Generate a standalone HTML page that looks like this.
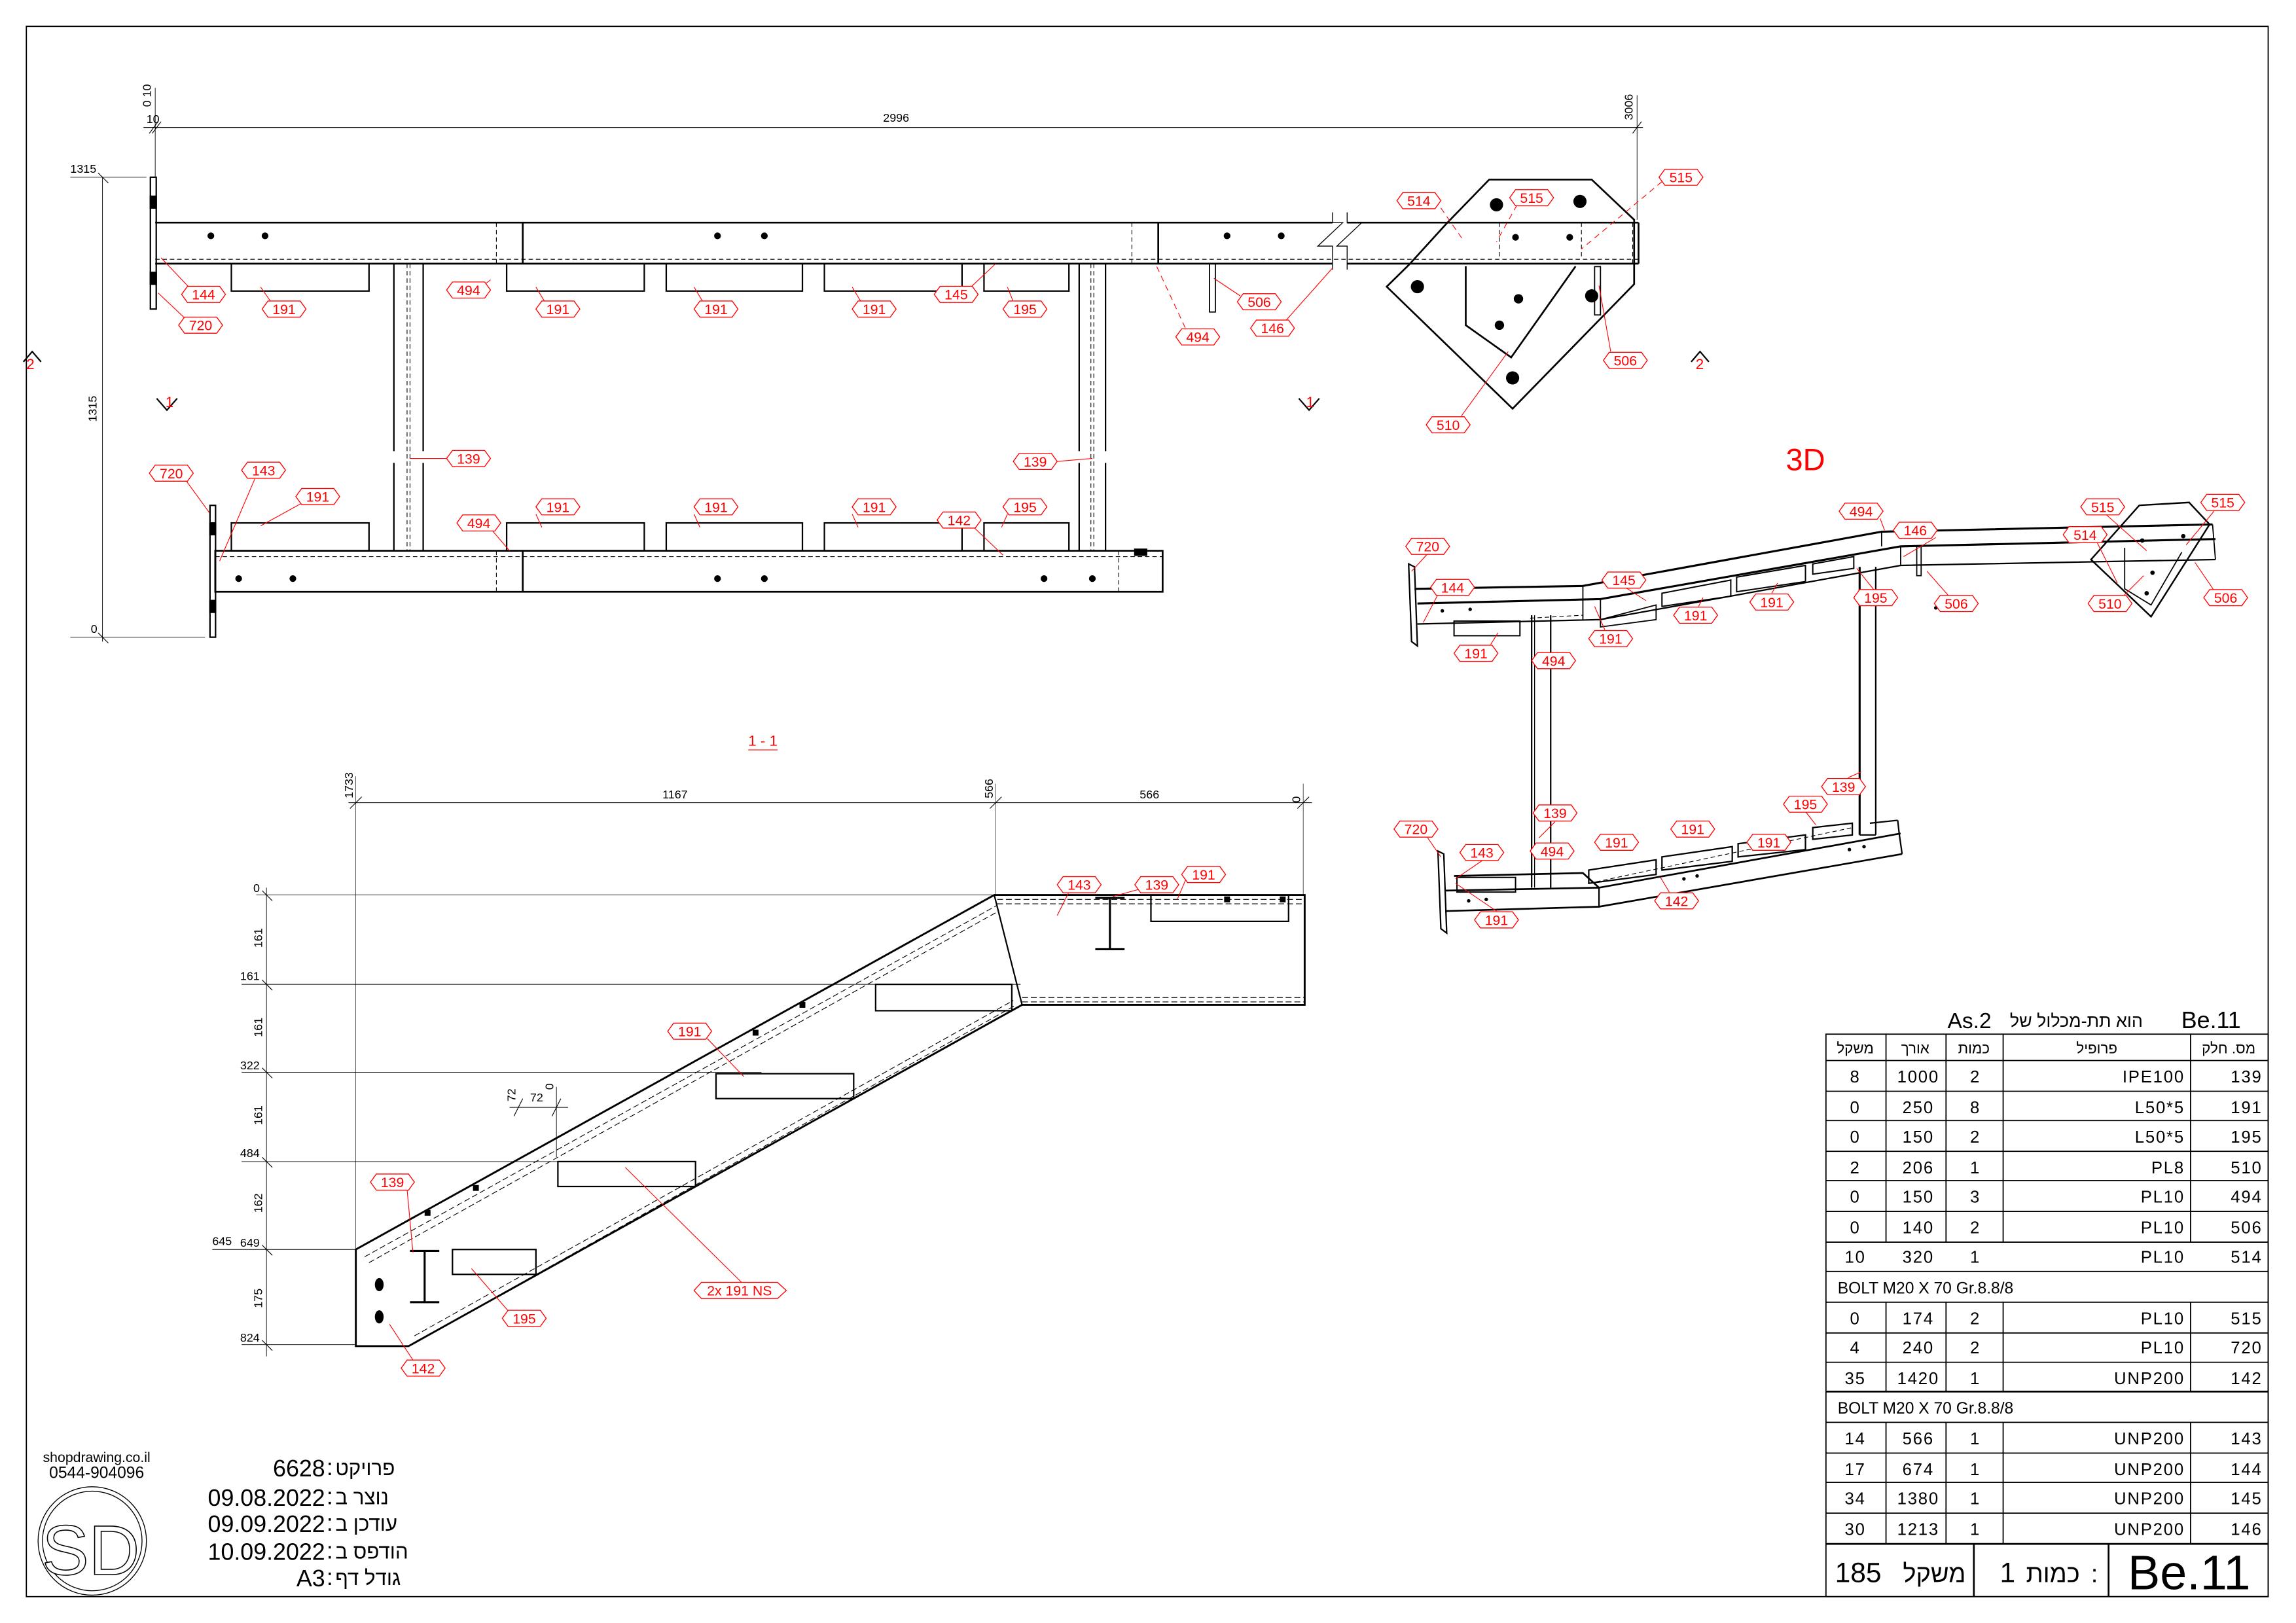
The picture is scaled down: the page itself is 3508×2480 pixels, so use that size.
<!DOCTYPE html>
<html><head><meta charset="utf-8"><style>
html,body{margin:0;padding:0;background:#fff;}
svg{display:block;}
text{font-family:"Liberation Sans","Noto Sans CJK JP",sans-serif;}
.r{fill:#f00;font-size:9.5px;text-anchor:middle;}
.d{fill:#000;font-size:8px;}
</style></head><body>
<svg width="3508" height="2480" viewBox="0 0 1568 1108" preserveAspectRatio="none" xmlns="http://www.w3.org/2000/svg">
<defs>
<polygon id="h" points="-15,0 -11,-5.5 11,-5.5 15,0 11,5.5 -11,5.5" fill="#fff" stroke="#f00" stroke-width="0.6"/>
</defs>
<rect x="0" y="0" width="1568" height="1108" fill="#fff"/>
<rect x="18" y="18" width="1531" height="1072" fill="none" stroke="#000" stroke-width="0.8"/>

<g stroke="#000" fill="none">
<line x1="98" y1="87" x2="1122" y2="87" stroke-width="0.6"/>
<line x1="106" y1="60" x2="106" y2="121" stroke-width="0.4"/>
<line x1="1118" y1="65" x2="1118" y2="150" stroke-width="0.4"/>
<line x1="102" y1="91" x2="108" y2="83" stroke-width="0.5"/>
<line x1="104" y1="91" x2="110" y2="83" stroke-width="0.5"/>
<line x1="1115" y1="91" x2="1121" y2="83" stroke-width="0.5"/>
<line x1="70" y1="121" x2="70" y2="438" stroke-width="0.4"/>
<line x1="48" y1="121" x2="100" y2="121" stroke-width="0.4"/>
<line x1="48" y1="435" x2="140" y2="435" stroke-width="0.4"/>
<line x1="67" y1="118" x2="74" y2="125" stroke-width="0.5"/>
<line x1="67" y1="432" x2="74" y2="439" stroke-width="0.5"/>
<line x1="106" y1="152" x2="910" y2="152" stroke-width="1.2"/>
<line x1="920" y1="152" x2="1119" y2="152" stroke-width="1.2"/>
<line x1="106" y1="180" x2="910" y2="180" stroke-width="1.2"/>
<line x1="920" y1="180" x2="1119" y2="180" stroke-width="1.2"/>
<line x1="1119" y1="152" x2="1119" y2="180" stroke-width="1.2"/>
<line x1="106" y1="177" x2="1119" y2="177" stroke-width="0.5" stroke-dasharray="3,2"/>
<polyline points="910,145 910,152 917,152 900,168 910,168 910,184" stroke-width="0.6"/>
<polyline points="920,145 920,152 930,152 913,168 920,168 920,184" stroke-width="0.6"/>
<line x1="357" y1="152" x2="357" y2="180" stroke-width="1.2"/>
<line x1="339" y1="152" x2="339" y2="180" stroke-width="0.5" stroke-dasharray="3,2"/>
<line x1="791" y1="152" x2="791" y2="180" stroke-width="1.2"/>
<line x1="773" y1="152" x2="773" y2="180" stroke-width="0.5" stroke-dasharray="3,2"/>
<rect x="102.7" y="121" width="4" height="90" stroke-width="1"/>
<rect x="102.7" y="134" width="4" height="8" fill="#000"/>
<rect x="102.7" y="186" width="4" height="8" fill="#000"/>
<rect x="158" y="180" width="94" height="18.7" stroke-width="1"/>
<rect x="346" y="180" width="94" height="18.7" stroke-width="1"/>
<rect x="455" y="180" width="93" height="18.7" stroke-width="1"/>
<rect x="563" y="180" width="94" height="18.7" stroke-width="1"/>
<rect x="672" y="180" width="58" height="18.7" stroke-width="1"/>
<line x1="269" y1="180" x2="269" y2="308" stroke-width="1"/><line x1="269" y1="316" x2="269" y2="376" stroke-width="1"/>
<line x1="289" y1="180" x2="289" y2="308" stroke-width="1"/><line x1="289" y1="316" x2="289" y2="376" stroke-width="1"/>
<line x1="278" y1="180" x2="278" y2="376" stroke-width="0.5" stroke-dasharray="3,2"/>
<line x1="280" y1="180" x2="280" y2="376" stroke-width="0.5" stroke-dasharray="3,2"/>
<line x1="737" y1="180" x2="737" y2="308" stroke-width="1"/><line x1="737" y1="316" x2="737" y2="376" stroke-width="1"/>
<line x1="755" y1="180" x2="755" y2="308" stroke-width="1"/><line x1="755" y1="316" x2="755" y2="376" stroke-width="1"/>
<line x1="745" y1="180" x2="745" y2="376" stroke-width="0.5" stroke-dasharray="3,2"/>
<line x1="747" y1="180" x2="747" y2="376" stroke-width="0.5" stroke-dasharray="3,2"/>
<rect x="147" y="376" width="647" height="28" stroke-width="1.2"/>
<line x1="147" y1="380" x2="794" y2="380" stroke-width="0.5" stroke-dasharray="3,2"/>
<line x1="357" y1="376" x2="357" y2="404" stroke-width="1.2"/>
<line x1="339" y1="376" x2="339" y2="404" stroke-width="0.5" stroke-dasharray="3,2"/>
<line x1="764" y1="376" x2="764" y2="404" stroke-width="0.5" stroke-dasharray="3,2"/>
<rect x="143.4" y="345" width="3.8" height="90" stroke-width="1"/>
<rect x="143.4" y="357" width="3.8" height="8" fill="#000"/>
<rect x="143.4" y="410" width="3.8" height="8" fill="#000"/>
<rect x="775" y="375" width="8" height="4" fill="#000"/>
<rect x="158" y="357" width="94" height="19" stroke-width="1"/>
<rect x="346" y="357" width="94" height="19" stroke-width="1"/>
<rect x="455" y="357" width="93" height="19" stroke-width="1"/>
<rect x="563" y="357" width="94" height="19" stroke-width="1"/>
<rect x="672" y="357" width="58" height="19" stroke-width="1"/>
<polygon points="1017,122.6 1087,122.6 1116,150 1116,194 1033,279 947,195.7 962,181 988,152.5" stroke-width="1.2" fill="none"/>
<polyline points="1001,181.8 1001,222 1032,244 1076,181.8" stroke-width="1.2"/>
<rect x="1089" y="182" width="4" height="33" stroke-width="0.8"/>
<rect x="826" y="180" width="4" height="33" stroke-width="0.8"/>
<line x1="1024" y1="152" x2="1024" y2="177" stroke-width="0.5" stroke-dasharray="3,2"/>
<line x1="1080" y1="152" x2="1080" y2="177" stroke-width="0.5" stroke-dasharray="3,2"/>
<line x1="1115" y1="152" x2="1115" y2="180" stroke-width="0.5" stroke-dasharray="3,2"/>
</g>
<g fill="#000">
<circle cx="144" cy="161" r="2.3"/><circle cx="181" cy="161" r="2.3"/>
<circle cx="490" cy="161" r="2.3"/><circle cx="522" cy="161" r="2.3"/>
<circle cx="838" cy="161" r="2.3"/><circle cx="875" cy="161" r="2.3"/>
<circle cx="1035" cy="162" r="2.3"/><circle cx="1072" cy="162" r="2.3"/>
<circle cx="163" cy="395" r="2.3"/><circle cx="200" cy="395" r="2.3"/>
<circle cx="490" cy="395" r="2.3"/><circle cx="522" cy="395" r="2.3"/>
<circle cx="713" cy="395" r="2.3"/><circle cx="746" cy="395" r="2.3"/>
<circle cx="1022" cy="139.8" r="4.5"/><circle cx="1079" cy="137.5" r="4.5"/>
<circle cx="968" cy="195.7" r="4.5"/><circle cx="1087" cy="202" r="4.5"/>
<circle cx="1033" cy="258" r="4.5"/><circle cx="1037" cy="204" r="3.2"/><circle cx="1024" cy="222" r="3.2"/>
</g>
<text class="d" x="612" y="83" text-anchor="middle">2996</text>
<text class="d" x="100" y="84">10</text>
<text class="d" transform="translate(103,73) rotate(-90)">0  10</text>
<text class="d" transform="translate(1115,82) rotate(-90)">3006</text>
<text class="d" x="48" y="118">1315</text>
<text class="d" transform="translate(66,288) rotate(-90)">1315</text>
<text class="d" x="62" y="432">0</text>
<g fill="none" stroke="#000" stroke-width="1"><path d="M16,247 L22,240 L28,247"/><path d="M107,272 L114,280 L121,272"/><path d="M887,272 L894,280 L901,272"/><path d="M1155,247 L1161,240 L1167,247"/></g>
<g fill="#f00" font-size="10px"><text x="18" y="252">2</text><text x="113" y="278">1</text><text x="892" y="278">1</text><text x="1158" y="252">2</text></g>

<g stroke="#f00" stroke-width="0.5" fill="none">
<line x1="110" y1="176" x2="129" y2="196"/><line x1="108" y1="200" x2="126" y2="217"/>
<line x1="178" y1="196" x2="185" y2="206"/><line x1="335" y1="191" x2="330" y2="195"/>
<line x1="366" y1="196" x2="372" y2="206"/><line x1="474" y1="196" x2="480" y2="206"/>
<line x1="582" y1="196" x2="588" y2="206"/><line x1="680" y1="180" x2="663" y2="196"/>
<line x1="688" y1="196" x2="692" y2="206"/><line x1="829" y1="190" x2="847" y2="202"/>
<line x1="790" y1="182" x2="810" y2="225" stroke-dasharray="4,3"/><line x1="910" y1="183" x2="878" y2="219"/>
<line x1="984" y1="142" x2="1000" y2="165" stroke-dasharray="4,3"/><line x1="1036" y1="140" x2="1022" y2="165" stroke-dasharray="4,3"/>
<line x1="1135" y1="124" x2="1080" y2="170" stroke-dasharray="4,3"/><line x1="1092" y1="195" x2="1100" y2="240"/>
<line x1="1030" y1="240" x2="998" y2="284"/><line x1="280" y1="313" x2="305" y2="313"/>
<line x1="746" y1="313" x2="722" y2="315"/><line x1="127" y1="328" x2="143" y2="350"/>
<line x1="174" y1="327" x2="150" y2="383"/><line x1="207" y1="343" x2="178" y2="359"/>
<line x1="336" y1="362" x2="348" y2="376"/><line x1="366" y1="351" x2="370" y2="360"/>
<line x1="474" y1="351" x2="478" y2="360"/><line x1="582" y1="351" x2="586" y2="360"/>
<line x1="665" y1="360" x2="685" y2="379"/><line x1="688" y1="351" x2="684" y2="360"/>
</g>

<text x="521" y="509" fill="#f00" font-size="10px" text-anchor="middle">1 - 1</text>
<line x1="511" y1="512" x2="531" y2="512" stroke="#f00" stroke-width="0.5"/>
<g stroke="#000" fill="none">
<line x1="238" y1="548" x2="896" y2="548" stroke-width="0.5"/>
<line x1="243" y1="530" x2="243" y2="853" stroke-width="0.3"/>
<line x1="680" y1="535" x2="680" y2="611" stroke-width="0.3"/>
<line x1="890" y1="535" x2="890" y2="611" stroke-width="0.3"/>
<line x1="239" y1="552" x2="247" y2="544" stroke-width="0.5"/><line x1="676" y1="552" x2="684" y2="544" stroke-width="0.5"/><line x1="886" y1="552" x2="894" y2="544" stroke-width="0.5"/>
<line x1="182" y1="606" x2="182" y2="926" stroke-width="0.4"/>
<line x1="175" y1="611" x2="680" y2="611" stroke-width="0.4"/>
<line x1="165" y1="672" x2="697" y2="672" stroke-width="0.4"/>
<line x1="165" y1="732" x2="520" y2="732" stroke-width="0.4"/>
<line x1="165" y1="793" x2="381" y2="793" stroke-width="0.4"/>
<line x1="145" y1="853" x2="243" y2="853" stroke-width="0.4"/>
<line x1="165" y1="918" x2="243" y2="918" stroke-width="0.4"/>
<g stroke-width="0.5"><line x1="179" y1="608" x2="186" y2="615"/><line x1="179" y1="669" x2="186" y2="676"/><line x1="179" y1="729" x2="186" y2="736"/><line x1="179" y1="790" x2="186" y2="797"/><line x1="179" y1="850" x2="186" y2="857"/><line x1="179" y1="915" x2="186" y2="922"/></g>
<line x1="348" y1="756" x2="388" y2="756" stroke-width="0.4"/>
<line x1="380" y1="742" x2="380" y2="790" stroke-width="0.4"/>
<line x1="351" y1="762" x2="357" y2="750" stroke-width="0.5"/><line x1="377" y1="762" x2="383" y2="750" stroke-width="0.5"/>
<polygon points="243,853 679,611 891,611 891,686 698,686 279,919 243,919" stroke-width="1.3"/>
<line x1="679" y1="611" x2="698" y2="686" stroke-width="1"/>
<line x1="249" y1="858" x2="681" y2="618" stroke-width="0.5" stroke-dasharray="4,2"/>
<line x1="252" y1="862" x2="682" y2="622" stroke-width="0.5" stroke-dasharray="4,2"/>
<line x1="283" y1="912" x2="692" y2="683" stroke-width="0.5" stroke-dasharray="4,2"/>
<line x1="286" y1="915" x2="694" y2="686" stroke-width="0.5" stroke-dasharray="4,2"/>
<line x1="681" y1="614" x2="891" y2="614" stroke-width="0.5" stroke-dasharray="4,2"/>
<line x1="681" y1="617" x2="891" y2="617" stroke-width="0.5" stroke-dasharray="4,2"/>
<line x1="698" y1="681" x2="891" y2="681" stroke-width="0.5" stroke-dasharray="4,2"/>
<line x1="698" y1="684" x2="891" y2="684" stroke-width="0.5" stroke-dasharray="4,2"/>
<rect x="309" y="853" width="57" height="17" stroke-width="1"/>
<rect x="381" y="793" width="94" height="17" stroke-width="1"/>
<rect x="489" y="733" width="94" height="17" stroke-width="1"/>
<rect x="598" y="672" width="93" height="18" stroke-width="1"/>
<rect x="786" y="611" width="94" height="18" stroke-width="1"/>
<g stroke-width="1.4"><line x1="280" y1="854" x2="300" y2="854"/><line x1="290" y1="854" x2="290" y2="889"/><line x1="280" y1="889" x2="300" y2="889"/>
<line x1="748" y1="613" x2="768" y2="613"/><line x1="758" y1="613" x2="758" y2="648"/><line x1="748" y1="648" x2="768" y2="648"/></g>
</g>
<g fill="#000"><ellipse cx="259" cy="877" rx="3" ry="4.5"/><ellipse cx="259" cy="899" rx="3" ry="4.5"/>
<rect x="290" y="826" width="4" height="4"/><rect x="323" y="809" width="4" height="4"/><rect x="514" y="703" width="4" height="4"/><rect x="546" y="684" width="4" height="4"/>
<rect x="836" y="612" width="4" height="4"/><rect x="874" y="612" width="4" height="4"/></g>
<text class="d" x="461" y="545" text-anchor="middle">1167</text>
<text class="d" x="785" y="545" text-anchor="middle">566</text>
<text class="d" transform="translate(241,545) rotate(-90)">1733</text>
<text class="d" transform="translate(678,545) rotate(-90)">566</text>
<text class="d" transform="translate(888,548) rotate(-90)">0</text>
<g class="d"><text x="173" y="609">0</text><text x="164" y="669">161</text><text x="164" y="730">322</text><text x="164" y="790">484</text><text x="145" y="850">645</text><text x="164" y="851">649</text><text x="164" y="916">824</text>
<text x="362" y="752">72</text></g>
<g class="d"><text transform="translate(179,647) rotate(-90)">161</text><text transform="translate(179,708) rotate(-90)">161</text><text transform="translate(179,768) rotate(-90)">161</text><text transform="translate(179,828) rotate(-90)">162</text><text transform="translate(179,893) rotate(-90)">175</text><text transform="translate(352,752) rotate(-90)">72</text><text transform="translate(378,744) rotate(-90)">0</text></g>
<g stroke="#f00" stroke-width="0.5"><line x1="730" y1="609" x2="722" y2="625"/><line x1="782" y1="606" x2="760" y2="612"/><line x1="810" y1="600" x2="804" y2="614"/>
<line x1="483" y1="709" x2="508" y2="735"/><line x1="278" y1="812" x2="282" y2="855"/><line x1="348" y1="896" x2="322" y2="866"/><line x1="283" y1="930" x2="266" y2="904"/><line x1="507" y1="876" x2="427" y2="797"/></g>

<text x="1233" y="321" fill="#f00" font-size="21px" text-anchor="middle">3D</text>
<g stroke="#000" fill="none">
<polyline points="966,402 1081,400 1285,363 1511,358" stroke-width="1.4"/>
<polyline points="968,412 1093,409 1298,373 1513,368" stroke-width="1.4"/>
<polyline points="968,426 1093,423 1298,386 1513,382" stroke-width="1"/>
<line x1="1081" y1="400" x2="1081" y2="423" stroke-width="0.8"/>
<line x1="1093" y1="409" x2="1093" y2="423" stroke-width="0.8"/>
<line x1="1285" y1="363" x2="1285" y2="373" stroke-width="0.8"/>
<line x1="1298" y1="373" x2="1298" y2="386" stroke-width="0.8"/>
<line x1="1511" y1="358" x2="1513" y2="382" stroke-width="0.8"/>
<polygon points="962,385 966,387 968,441 964,438" stroke-width="1"/>
<polygon points="1461,345 1495,343 1509,358 1469,421 1428,382" stroke-width="1.1"/>
<polyline points="1451,374 1451,402 1469,413 1490,377" stroke-width="0.8"/>
<rect x="993" y="424" width="45" height="10" stroke-width="0.9"/>
<polygon points="1093,423 1131,413 1131,423 1093,428" stroke-width="0.8"/>
<polygon points="1135,405 1182,396 1182,407 1135,414" stroke-width="0.9"/>
<polygon points="1186,394 1233,386 1233,397 1186,404" stroke-width="0.9"/>
<polygon points="1238,385 1266,380 1266,388 1238,392" stroke-width="0.9"/>
<line x1="1046" y1="420" x2="1046" y2="606" stroke-width="1"/><line x1="1048" y1="420" x2="1048" y2="606" stroke-width="0.6"/><line x1="1059" y1="420" x2="1059" y2="606" stroke-width="1"/>
<line x1="1270" y1="387" x2="1270" y2="570" stroke-width="1.4"/><line x1="1281" y1="387" x2="1281" y2="570" stroke-width="1"/><line x1="1270" y1="570" x2="1281" y2="570" stroke-width="1"/>
<polyline points="993,598 1081,596 1092,606" stroke-width="1.2"/>
<polyline points="987,608 1092,606 1298,569" stroke-width="1.2"/>
<polyline points="987,622 1092,619 1299,583" stroke-width="1.2"/>
<line x1="1092" y1="606" x2="1092" y2="619" stroke-width="1"/>
<polyline points="1296,560 1297,569 1299,583" stroke-width="1"/>
<line x1="1277" y1="562" x2="1296" y2="560" stroke-width="1"/>
<polygon points="982,581 986,583 988,637 984,634" stroke-width="1"/>
<rect x="995" y="599" width="40" height="10" stroke-width="0.9"/>
<polygon points="1085,594 1131,587 1131,597 1085,603" stroke-width="1"/>
<polygon points="1135,585 1183,578 1183,588 1135,594" stroke-width="1"/>
<polygon points="1187,576 1233,570 1233,580 1187,585" stroke-width="1"/>
<polygon points="1238,565 1265,562 1265,570 1238,573" stroke-width="1"/>
<line x1="1090" y1="602" x2="1265" y2="565" stroke-width="0.5" stroke-dasharray="3,2"/>
<line x1="1045" y1="422" x2="1081" y2="420" stroke-width="0.5" stroke-dasharray="3,2"/>
<rect x="1309" y="373" width="3" height="20" stroke-width="0.8"/>
</g>
<g fill="#000"><circle cx="985" cy="417" r="1.2"/><circle cx="1004" cy="416" r="1.2"/><circle cx="1322" cy="415" r="1.2"/><circle cx="1340" cy="414" r="1.2"/>
<circle cx="1463" cy="369" r="1.5"/><circle cx="1491" cy="366" r="1.5"/><circle cx="1470" cy="391" r="1.5"/><circle cx="1466" cy="405" r="1.5"/>
<circle cx="1003" cy="615" r="1.2"/><circle cx="1015" cy="614" r="1.2"/><circle cx="1150" cy="600" r="1.2"/><circle cx="1159" cy="598" r="1.2"/><circle cx="1263" cy="580" r="1.2"/><circle cx="1273" cy="578" r="1.2"/></g>
<g stroke="#f00" stroke-width="0.5"><line x1="975" y1="378" x2="964" y2="390"/><line x1="983" y1="404" x2="972" y2="425"/><line x1="1110" y1="401" x2="1124" y2="410"/>
<line x1="1210" y1="405" x2="1214" y2="398"/><line x1="1160" y1="414" x2="1163" y2="408"/><line x1="1096" y1="430" x2="1089" y2="414"/><line x1="1018" y1="440" x2="1023" y2="432"/>
<line x1="1284" y1="354" x2="1287" y2="362"/><line x1="1322" y1="367" x2="1300" y2="380"/><line x1="1438" y1="351" x2="1466" y2="376"/><line x1="1512" y1="349" x2="1493" y2="372"/>
<line x1="1432" y1="370" x2="1446" y2="398"/><line x1="1450" y1="407" x2="1464" y2="393"/><line x1="1512" y1="403" x2="1499" y2="384"/><line x1="1331" y1="407" x2="1316" y2="390"/>
<line x1="1280" y1="403" x2="1268" y2="388"/><line x1="1262" y1="531" x2="1271" y2="527"/><line x1="1233" y1="554" x2="1240" y2="563"/><line x1="1062" y1="561" x2="1051" y2="572"/>
<line x1="1013" y1="587" x2="994" y2="600"/><line x1="1022" y1="622" x2="994" y2="603"/><line x1="975" y1="572" x2="984" y2="585"/><line x1="1140" y1="609" x2="1134" y2="599"/></g>

<g>
<use href="#h" x="139" y="201"/><use href="#h" x="137" y="222"/><use href="#h" x="194" y="211"/><use href="#h" x="320" y="198"/><use href="#h" x="381" y="211"/><use href="#h" x="489" y="211"/><use href="#h" x="597" y="211"/><use href="#h" x="653" y="201"/><use href="#h" x="700" y="211"/><use href="#h" x="860" y="206"/><use href="#h" x="818" y="230"/><use href="#h" x="869" y="224"/><use href="#h" x="969" y="137"/><use href="#h" x="1046" y="135"/><use href="#h" x="1148" y="121"/><use href="#h" x="1110" y="246"/><use href="#h" x="989" y="290"/><use href="#h" x="320" y="313"/><use href="#h" x="707" y="315"/><use href="#h" x="117" y="323"/><use href="#h" x="180" y="321"/><use href="#h" x="217" y="339"/><use href="#h" x="327" y="357"/><use href="#h" x="381" y="346"/><use href="#h" x="489" y="346"/><use href="#h" x="597" y="346"/><use href="#h" x="655" y="355"/><use href="#h" x="700" y="346"/>
<use href="#h" x="737" y="604"/><use href="#h" x="790" y="604"/><use href="#h" x="822" y="597"/><use href="#h" x="471" y="704"/><use href="#h" x="268" y="807"/><use href="#h" x="358" y="900"/><use href="#h" x="289" y="934"/>
<polygon points="474,881 479,875.5 531,875.5 537,881 531,886.5 479,886.5" fill="#fff" stroke="#f00" stroke-width="0.6"/>
<use href="#h" x="1271" y="349"/><use href="#h" x="1308" y="362"/><use href="#h" x="1436" y="346"/><use href="#h" x="1518" y="343"/><use href="#h" x="1424" y="365"/><use href="#h" x="1441" y="412"/><use href="#h" x="1520" y="408"/><use href="#h" x="1336" y="412"/><use href="#h" x="1281" y="408"/><use href="#h" x="975" y="373"/><use href="#h" x="992" y="401"/><use href="#h" x="1109" y="396"/><use href="#h" x="1210" y="411"/><use href="#h" x="1158" y="420"/><use href="#h" x="1100" y="436"/><use href="#h" x="1008" y="446"/><use href="#h" x="1061" y="451"/><use href="#h" x="1259" y="537"/><use href="#h" x="1233" y="549"/><use href="#h" x="1156" y="566"/><use href="#h" x="1208" y="575"/><use href="#h" x="1104" y="575"/><use href="#h" x="1062" y="555"/><use href="#h" x="1060" y="581"/><use href="#h" x="1012" y="582"/><use href="#h" x="967" y="566"/><use href="#h" x="1145" y="615"/><use href="#h" x="1022" y="628"/>
</g>
<g class="r">
<text x="139" y="204.5">144</text><text x="137" y="225.5">720</text><text x="194" y="214.5">191</text><text x="320" y="201.5">494</text><text x="381" y="214.5">191</text><text x="489" y="214.5">191</text><text x="597" y="214.5">191</text><text x="653" y="204.5">145</text><text x="700" y="214.5">195</text><text x="860" y="209.5">506</text><text x="818" y="233.5">494</text><text x="869" y="227.5">146</text><text x="969" y="140.5">514</text><text x="1046" y="138.5">515</text><text x="1148" y="124.5">515</text><text x="1110" y="249.5">506</text><text x="989" y="293.5">510</text><text x="320" y="316.5">139</text><text x="707" y="318.5">139</text><text x="117" y="326.5">720</text><text x="180" y="324.5">143</text><text x="217" y="342.5">191</text><text x="327" y="360.5">494</text><text x="381" y="349.5">191</text><text x="489" y="349.5">191</text><text x="597" y="349.5">191</text><text x="655" y="358.5">142</text><text x="700" y="349.5">195</text>
<text x="737" y="607.5">143</text><text x="790" y="607.5">139</text><text x="822" y="600.5">191</text><text x="471" y="707.5">191</text><text x="268" y="810.5">139</text><text x="358" y="903.5">195</text><text x="289" y="937.5">142</text><text x="505" y="884.5">2x 191 NS</text>
<text x="1271" y="352.5">494</text><text x="1308" y="365.5">146</text><text x="1436" y="349.5">515</text><text x="1518" y="346.5">515</text><text x="1424" y="368.5">514</text><text x="1441" y="415.5">510</text><text x="1520" y="411.5">506</text><text x="1336" y="415.5">506</text><text x="1281" y="411.5">195</text><text x="975" y="376.5">720</text><text x="992" y="404.5">144</text><text x="1109" y="399.5">145</text><text x="1210" y="414.5">191</text><text x="1158" y="423.5">191</text><text x="1100" y="439.5">191</text><text x="1008" y="449.5">191</text><text x="1061" y="454.5">494</text><text x="1259" y="540.5">139</text><text x="1233" y="552.5">195</text><text x="1156" y="569.5">191</text><text x="1208" y="578.5">191</text><text x="1104" y="578.5">191</text><text x="1062" y="558.5">139</text><text x="1060" y="584.5">494</text><text x="1012" y="585.5">143</text><text x="967" y="569.5">720</text><text x="1145" y="618.5">142</text><text x="1022" y="631.5">191</text>
</g>

<text x="1345" y="702" font-size="15px" text-anchor="middle">As.2</text>
<text x="1418" y="701" font-size="12px" text-anchor="middle">הוא תת-מכלול של</text>
<text x="1510" y="702" font-size="16px" text-anchor="middle">Be.11</text>
<g stroke="#000" stroke-width="0.8" fill="none">
<rect x="1247" y="706" width="302" height="384"/>
<line x1="1247" y1="724" x2="1549" y2="724"/><line x1="1247" y1="745" x2="1549" y2="745"/><line x1="1247" y1="765" x2="1549" y2="765"/><line x1="1247" y1="786" x2="1549" y2="786"/><line x1="1247" y1="806" x2="1549" y2="806"/><line x1="1247" y1="827" x2="1549" y2="827"/><line x1="1247" y1="848" x2="1549" y2="848"/><line x1="1247" y1="868" x2="1549" y2="868"/><line x1="1247" y1="889" x2="1549" y2="889"/><line x1="1247" y1="910" x2="1549" y2="910"/><line x1="1247" y1="930" x2="1549" y2="930"/><line x1="1247" y1="950" x2="1549" y2="950" stroke-width="1.2"/><line x1="1247" y1="971" x2="1549" y2="971"/><line x1="1247" y1="992" x2="1549" y2="992"/><line x1="1247" y1="1012" x2="1549" y2="1012"/><line x1="1247" y1="1033" x2="1549" y2="1033"/><line x1="1247" y1="1054" x2="1549" y2="1054" stroke-width="1.2"/>
<path d="M1288,706 V848 M1329,706 V848 M1368,706 V848 M1496,706 V848"/>
<path d="M1288,889 V950 M1329,889 V950 M1368,889 V950 M1496,889 V950"/>
<path d="M1288,971 V1054 M1329,971 V1054 M1368,971 V1054 M1496,971 V1054"/>
<path d="M1348,1054 V1090 M1440,1054 V1090" stroke-width="1.2"/>
</g>
<g font-size="10px" text-anchor="middle" fill="#000">
<text x="1267" y="719">משקל</text><text x="1308" y="719">אורך</text><text x="1348" y="719">כמות</text><text x="1432" y="719">פרופיל</text><text x="1522" y="719">מס. חלק</text>
</g>
<g font-size="11.5px" fill="#000" style="letter-spacing:0.8px">
<g text-anchor="middle">
<text x="1267" y="739">8</text><text x="1310" y="739">1000</text><text x="1349" y="739">2</text>
<text x="1267" y="760">0</text><text x="1310" y="760">250</text><text x="1349" y="760">8</text>
<text x="1267" y="780">0</text><text x="1310" y="780">150</text><text x="1349" y="780">2</text>
<text x="1267" y="801">2</text><text x="1310" y="801">206</text><text x="1349" y="801">1</text>
<text x="1267" y="821">0</text><text x="1310" y="821">150</text><text x="1349" y="821">3</text>
<text x="1267" y="842">0</text><text x="1310" y="842">140</text><text x="1349" y="842">2</text>
<text x="1267" y="862">10</text><text x="1310" y="862">320</text><text x="1349" y="862">1</text>
<text x="1267" y="904">0</text><text x="1310" y="904">174</text><text x="1349" y="904">2</text>
<text x="1267" y="924">4</text><text x="1310" y="924">240</text><text x="1349" y="924">2</text>
<text x="1267" y="945">35</text><text x="1310" y="945">1420</text><text x="1349" y="945">1</text>
<text x="1267" y="986">14</text><text x="1310" y="986">566</text><text x="1349" y="986">1</text>
<text x="1267" y="1007">17</text><text x="1310" y="1007">674</text><text x="1349" y="1007">1</text>
<text x="1267" y="1027">34</text><text x="1310" y="1027">1380</text><text x="1349" y="1027">1</text>
<text x="1267" y="1048">30</text><text x="1310" y="1048">1213</text><text x="1349" y="1048">1</text>
</g>
<g text-anchor="end">
<text x="1492" y="739">IPE100</text><text x="1545" y="739">139</text>
<text x="1492" y="760">L50*5</text><text x="1545" y="760">191</text>
<text x="1492" y="780">L50*5</text><text x="1545" y="780">195</text>
<text x="1492" y="801">PL8</text><text x="1545" y="801">510</text>
<text x="1492" y="821">PL10</text><text x="1545" y="821">494</text>
<text x="1492" y="842">PL10</text><text x="1545" y="842">506</text>
<text x="1492" y="862">PL10</text><text x="1545" y="862">514</text>
<text x="1492" y="904">PL10</text><text x="1545" y="904">515</text>
<text x="1492" y="924">PL10</text><text x="1545" y="924">720</text>
<text x="1492" y="945">UNP200</text><text x="1545" y="945">142</text>
<text x="1492" y="986">UNP200</text><text x="1545" y="986">143</text>
<text x="1492" y="1007">UNP200</text><text x="1545" y="1007">144</text>
<text x="1492" y="1027">UNP200</text><text x="1545" y="1027">145</text>
<text x="1492" y="1048">UNP200</text><text x="1545" y="1048">146</text>
</g>
</g>
<text x="1255" y="883" font-size="11px" fill="#000">BOLT M20 X 70 Gr.8.8/8</text>
<text x="1255" y="965" font-size="11px" fill="#000">BOLT M20 X 70 Gr.8.8/8</text>
<text x="1269" y="1080" font-size="19px" text-anchor="middle">185</text>
<text x="1321" y="1080" font-size="17px" text-anchor="middle">משקל</text>
<text x="1371" y="1080" font-size="19px" text-anchor="middle">1</text>
<text x="1402" y="1080" font-size="17px" text-anchor="middle">כמות</text>
<text x="1428" y="1080" font-size="17px">:</text>
<text x="1495" y="1085" font-size="33px" text-anchor="middle">Be.11</text>

<text x="66" y="998" font-size="9.5px" text-anchor="middle">shopdrawing.co.il</text>
<text x="66" y="1009" font-size="11px" text-anchor="middle">0544-904096</text>
<g fill="none" stroke="#000" stroke-width="0.6">
<ellipse cx="63" cy="1052" rx="37" ry="37"/><ellipse cx="63" cy="1052" rx="34" ry="34"/>
</g>
<text x="62" y="1075" font-size="48px" text-anchor="middle" fill="#fff" stroke="#000" stroke-width="0.7" font-family="'Liberation Serif',serif">SD</text>
<g font-size="16px" fill="#000">
<g text-anchor="end"><text x="222" y="1008">6628</text><text x="222" y="1028">09.08.2022</text><text x="222" y="1046">09.09.2022</text><text x="222" y="1065">10.09.2022</text><text x="222" y="1083">A3</text></g>
<g><text x="223" y="1007">:</text><text x="223" y="1027">:</text><text x="223" y="1045">:</text><text x="223" y="1064">:</text><text x="223" y="1082">:</text></g>
<g font-size="14px"><text x="229" y="1007">פרויקט</text><text x="229" y="1027">נוצר ב</text><text x="229" y="1045">עודכן ב</text><text x="229" y="1064">הודפס ב</text><text x="229" y="1082">גודל דף</text></g>
</g>
</svg>
</body></html>
